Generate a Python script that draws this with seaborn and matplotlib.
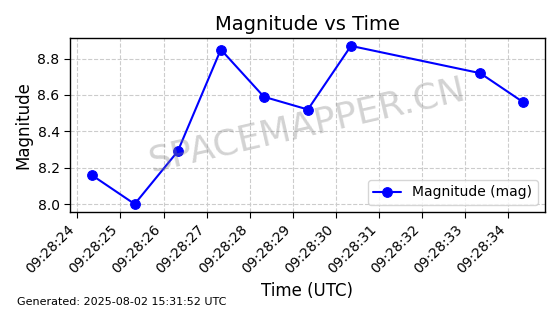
import matplotlib
matplotlib.use("Agg")
import matplotlib.pyplot as plt
import matplotlib.dates as mdates
import seaborn as sns
import pandas as pd

times = ["2025-08-02 09:28:24.33", "2025-08-02 09:28:25.33", "2025-08-02 09:28:26.33",
         "2025-08-02 09:28:27.33", "2025-08-02 09:28:28.33", "2025-08-02 09:28:29.35",
         "2025-08-02 09:28:30.35", "2025-08-02 09:28:33.35", "2025-08-02 09:28:34.35"]
magnitudes = [8.16, 8.00, 8.29, 8.85, 8.59, 8.52, 8.87, 8.72, 8.56]

df = pd.DataFrame({"time": pd.to_datetime(times), "mag": magnitudes})

sns.set_style("white")
plt.rcParams['font.family'] = ['DejaVu Sans']
plt.rcParams.update({"text.color": "black", "axes.labelcolor": "black",
                     "xtick.color": "black", "ytick.color": "black"})
fig, ax = plt.subplots(figsize=(5.6, 3.14), dpi=100)
fig.subplots_adjust(left=0.125, right=0.973, top=0.879, bottom=0.325)

sns.lineplot(data=df, x="time", y="mag", ax=ax, color="blue", marker="o",
             markersize=7, markeredgecolor="blue", linewidth=1.5, label="Magnitude (mag)")

ax.set_title("Magnitude vs Time", fontsize=14, color="black")
ax.set_xlabel("Time (UTC)", fontsize=12, color="black")
ax.set_ylabel("Magnitude", fontsize=12, color="black")
ax.xaxis.set_major_locator(mdates.SecondLocator())
ax.xaxis.set_major_formatter(mdates.DateFormatter("%H:%M:%S"))
ax.set_yticks([8.0, 8.2, 8.4, 8.6, 8.8])
ax.tick_params(axis="both", labelsize=10, length=4, direction="out", left=True, bottom=True,
               colors="black")
plt.setp(ax.get_xticklabels(), rotation=45, ha="right")
ax.grid(True, linestyle="--", color="#cccccc", linewidth=0.8)
for s in ax.spines.values():
    s.set_color("black")
    s.set_linewidth(1.0)
leg = ax.legend(loc="lower right", fontsize=10)
for t in leg.get_texts():
    t.set_color("black")

ax.text(0.5, 0.5, "SPACEMAPPER.CN", transform=ax.transAxes, fontsize=26,
        color="gray", alpha=0.35, rotation=13, ha="center", va="center")
fig.text(0.03, 0.03, "Generated: 2025-08-02 15:31:52 UTC", fontsize=8, color="black")

fig.savefig("out.png", dpi=100)
